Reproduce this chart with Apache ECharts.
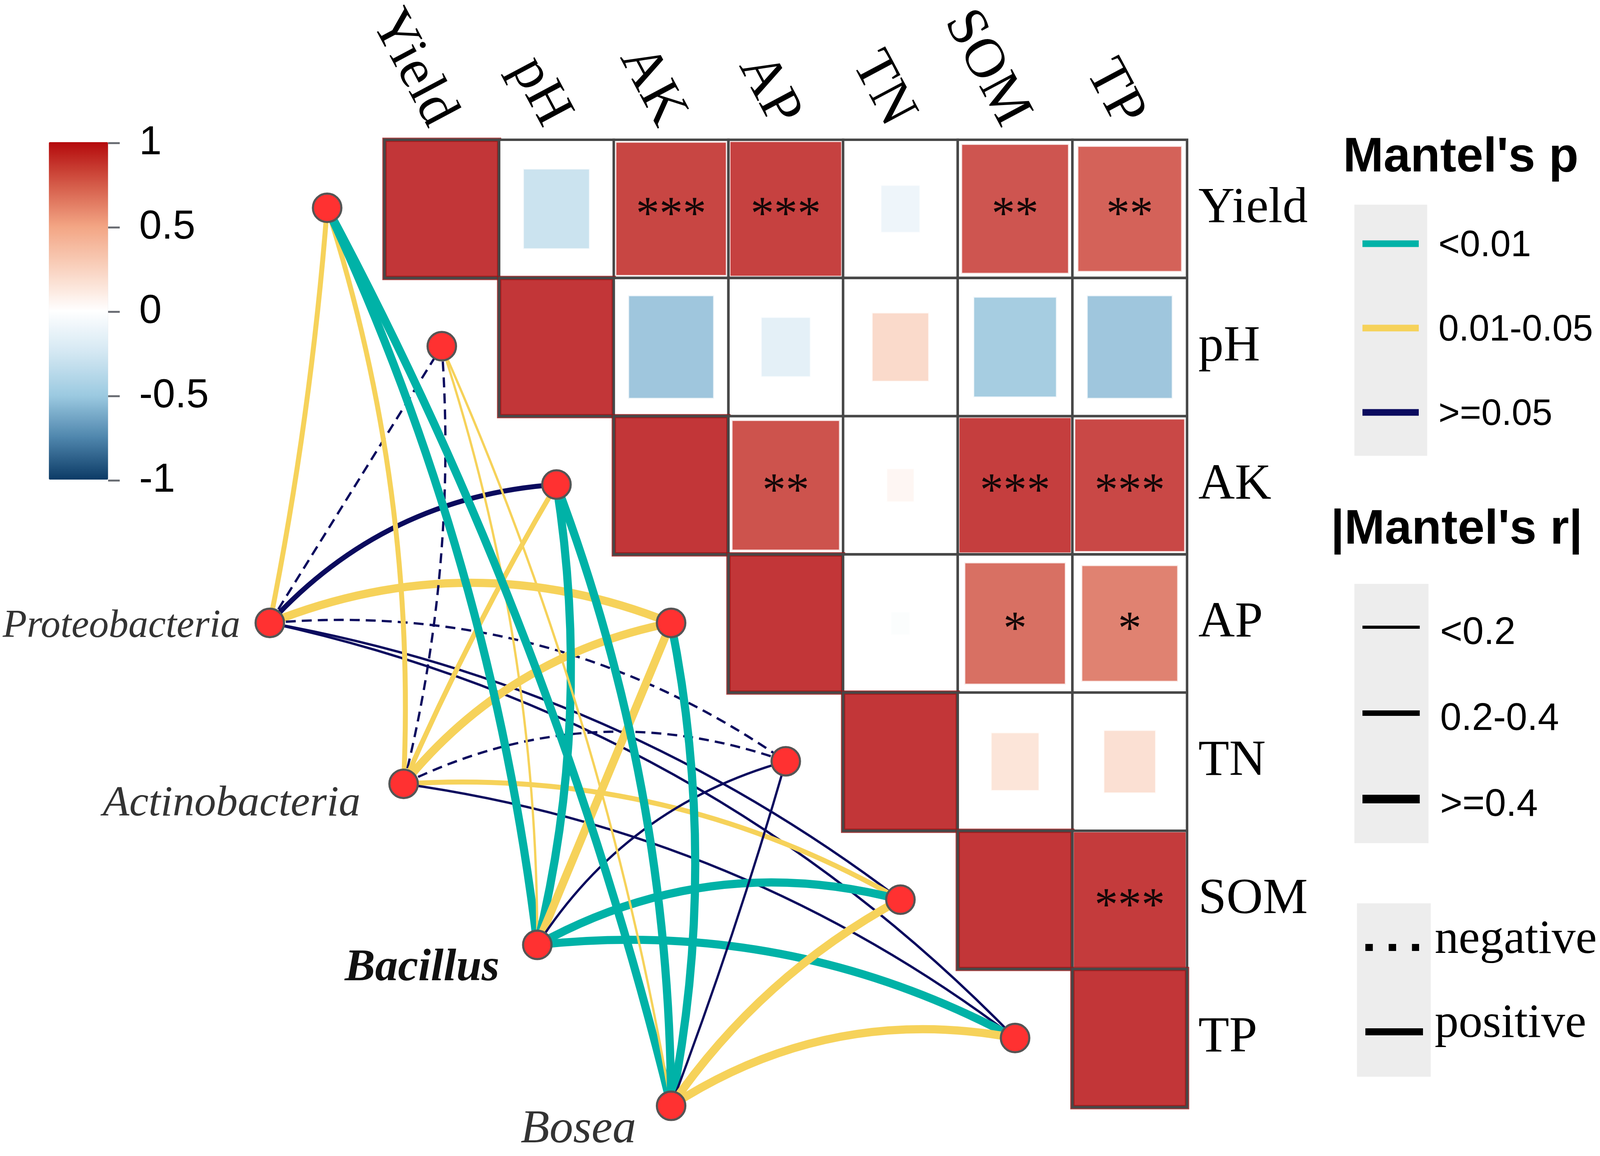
<!DOCTYPE html>
<html>
<head>
<meta charset="utf-8">
<script src="https://cdn.jsdelivr.net/npm/echarts@6/dist/echarts.min.js"></script>
<style>
html,body{margin:0;padding:0;background:#ffffff;overflow:hidden;}
#c{width:100vw;height:100vh;}
</style>
</head>
<body>
<div id="c"></div>
<script>
// ---------------- data ----------------
const envVars = ['Yield', 'pH', 'AK', 'AP', 'TN', 'SOM', 'TP'];

// Pearson r between environmental factors (upper triangle, row = y, col = x)
const corrR = [
  [1.00, -0.34, 0.94, 0.96, -0.12, 0.88, 0.83],
  [null, 1.00, -0.56, -0.19, 0.25, -0.53, -0.56],
  [null, null, 1.00, 0.89, 0.06, 0.97, 0.93],
  [null, null, null, 1.00, -0.03, 0.78, 0.71],
  [null, null, null, null, 1.00, 0.18, 0.21],
  [null, null, null, null, null, 1.00, 0.98],
  [null, null, null, null, null, null, 1.00]
];
const corrSig = [
  ['', '', '***', '***', '', '**', '**'],
  ['', '', '', '', '', '', ''],
  ['', '', '', '**', '', '***', '***'],
  ['', '', '', '', '', '*', '*'],
  ['', '', '', '', '', '', ''],
  ['', '', '', '', '', '', '***'],
  ['', '', '', '', '', '', '']
];

const taxa = ['Proteobacteria', 'Actinobacteria', 'Bacillus', 'Bosea'];
const pLevels = ['<0.01', '0.01-0.05', '>=0.05'];
const rLevels = ['<0.2', '0.2-0.4', '>=0.4'];
// Mantel test classes: rows = taxa, cols = envVars
const mantelP = [
  [1, 2, 2, 1, 2, 2, 2],
  [1, 2, 1, 1, 2, 1, 2],
  [0, 1, 0, 1, 2, 0, 0],
  [0, 1, 0, 0, 2, 1, 1]
];
const mantelR = [
  [1, 0, 1, 2, 0, 0, 0],
  [1, 0, 1, 2, 0, 1, 0],
  [2, 0, 2, 2, 0, 2, 2],
  [2, 0, 2, 2, 0, 2, 2]
];
const mantelSign = [
  [1, -1, 1, 1, -1, 1, 1],
  [1, -1, 1, 1, -1, 1, 1],
  [1, 1, 1, 1, 1, 1, 1],
  [1, 1, 1, 1, 1, 1, 1]
];
const colorbarTicks = [-1, -0.5, 0, 0.5, 1];

// ---------------- layout / style ----------------
const W = window.innerWidth || 4944, H = window.innerHeight || 2960;
const sx = W / 4944, sy = H / 2960, fs = sx, lw = Math.sqrt(sx * sy);
const X = v => v * sx, Y = v => v * sy, F = v => v * fs;

const taxaPos = [[-1.5, 3.0], [-0.333, 4.163], [0.833, 5.327], [2.0, 6.49]];
const edgeCurve = [
  [-0.03, 0.00, 0.20, 0.20, 0.18, 0.12, 0.15],
  [-0.09, -0.08, 0.03, 0.18, 0.21, 0.15, 0.13],
  [-0.08, -0.08, -0.10, 0.00, 0.19, 0.20, 0.155],
  [-0.063, -0.063, -0.09, -0.10, -0.02, 0.12, 0.20]
];
const pColors = ['#00b2a7', '#f6d25a', '#0b0b5e'];
const rWidths = [6.5, 14, 23];
const taxaLabel = [
  {distance: 44, offset: [0, 9], fontSize: 122, fontWeight: 'normal', color: '#333333'},
  {distance: 86, offset: [0, 52], fontSize: 134, fontWeight: 'normal', color: '#333333'},
  {distance: 70, offset: [0, 60], fontSize: 141, fontWeight: 'bold', color: '#111111'},
  {distance: 61, offset: [0, 62], fontSize: 146, fontWeight: 'normal', color: '#333333'}
];

const CELL = 2480 / 7;
const heatGrid = {left: X(1188), top: Y(355), width: X(2480), height: Y(2480)};
const netGrid = {left: X(1188 - 2 * CELL), top: Y(355), width: X(9 * CELL), height: Y(7 * CELL)};
const barGrid = {left: X(151), top: Y(366), width: X(183), height: Y(864)};

const heatData = [];
for (let i = 0; i < envVars.length; i++) {
  for (let j = i; j < envVars.length; j++) {
    heatData.push([j, i, corrR[i][j]]);
  }
}

const nodes = envVars.map((v, i) => ({name: 'env_' + v, value: [i - 1, i], label: {show: false}}));
taxa.forEach((t, k) => {
  const L = taxaLabel[k];
  nodes.push({
    name: t,
    value: taxaPos[k],
    label: {
      show: true, position: 'left', distance: X(L.distance), offset: [0, Y(L.offset[1])],
      formatter: '{b}', fontFamily: 'Liberation Serif', fontStyle: 'italic',
      fontWeight: L.fontWeight, fontSize: F(L.fontSize), color: L.color
    }
  });
});
const links = [];
taxa.forEach((t, k) => {
  envVars.forEach((v, j) => {
    links.push({
      source: envVars.length + k,
      target: j,
      lineStyle: {
        color: pColors[mantelP[k][j]],
        width: rWidths[mantelR[k][j]] * lw,
        type: mantelSign[k][j] < 0 ? [28 * lw, 17 * lw] : 'solid',
        curveness: edgeCurve[k][j],
        opacity: 1
      }
    });
  });
});

function renderCell(params, api) {
  const c = api.value(0), r = api.value(1), v = api.value(2);
  const p = api.coord([c, r]);
  const s = api.size([1, 1]);
  const w = s[0], h = s[1];
  const side = Math.sqrt(Math.abs(v));
  const diag = c === r;
  const sig = corrSig[r][c];
  const children = [
    {type: 'rect', shape: {x: p[0] - w / 2, y: p[1] - h / 2, width: w, height: h}, style: {fill: '#ffffff'}},
    {type: 'rect', shape: {x: p[0] - w * side / 2, y: p[1] - h * side / 2, width: w * side, height: h * side},
      style: {fill: api.visual('color'), opacity: 0.82, stroke: diag ? '#9a1515' : '#ffffff', lineWidth: (diag ? 12 : 5) * lw}},
    {type: 'rect', shape: {x: p[0] - w / 2, y: p[1] - h / 2, width: w, height: h},
      style: {fill: 'none', stroke: '#474747', lineWidth: 7 * lw}}
  ];
  if (sig) {
    children.push({type: 'text', x: p[0], y: p[1] + Y(20),
      style: {text: sig, fill: '#140808', fontSize: F(145), fontFamily: 'Liberation Serif',
        align: 'center', verticalAlign: 'middle'}});
  }
  return {type: 'group', children: children};
}

// legend graphics
const G = [];
function txt(t, x, y, size, weight, family) {
  G.push({type: 'text', x: X(x), y: Y(y), silent: true, z: 10,
    style: {text: t, fill: '#000000', fontSize: F(size), fontWeight: weight || 'normal',
      fontFamily: family || 'Liberation Sans', align: 'left', verticalAlign: 'middle'}});
}
function rect(x, y, w, h) {
  G.push({type: 'rect', silent: true, z: 9, shape: {x: X(x), y: Y(y), width: X(w), height: Y(h)}, style: {fill: '#ededed'}});
}
function line(x1, x2, y, color, width, dash) {
  G.push({type: 'line', silent: true, z: 10, shape: {x1: X(x1), y1: Y(y), x2: X(x2), y2: Y(y)},
    style: {stroke: color, lineWidth: Y(width), lineDash: dash ? dash.map(X) : null}});
}
txt("Mantel's p", 4150, 405, 150, 'bold');
rect(4185, 524, 225, 643);
const pLegY = [624, 840, 1056];
pLevels.forEach((lab, i) => {
  line(4210, 4384, pLegY[i], pColors[i], 17);
  txt(lab, 4445, pLegY[i] + 6, 113);
});
txt("|Mantel's r|", 4112, 1358, 150, 'bold');
rect(4185, 1495, 229, 664);
const rLegY = [1606, 1826, 2046];
const rLegW = [8, 14, 22];
rLevels.forEach((lab, i) => {
  line(4210, 4387, rLegY[i], '#000000', rLegW[i]);
  txt(lab, 4450, rLegY[i] + 16, 118);
});
rect(4193, 2313, 228, 444);
line(4219, 4385, 2426, '#000000', 18, [23, 49]);
line(4219, 4397, 2642, '#000000', 18);
txt('negative', 4433, 2408, 148, 'normal', 'Liberation Serif');
txt('positive', 4433, 2623, 148, 'normal', 'Liberation Serif');

const option = {
  animation: false,
  backgroundColor: '#ffffff',
  grid: [
    heatGrid,
    netGrid,
    barGrid
  ],
  xAxis: [
    {type: 'category', gridIndex: 0, position: 'top', data: envVars,
      axisLine: {show: false}, axisTick: {show: false}, splitLine: {show: false},
      axisLabel: {interval: 0, rotate: 62, margin: Y(45), fontSize: 158 * (sx + sy) / 2, fontFamily: 'Liberation Serif', color: '#000000'}},
    {type: 'value', gridIndex: 1, min: -2.5, max: 6.5, show: false, splitLine: {show: false}},
    {type: 'value', gridIndex: 2, min: 0, max: 1, show: false, splitLine: {show: false}}
  ],
  yAxis: [
    {type: 'category', gridIndex: 0, position: 'right', inverse: true, data: envVars,
      axisLine: {show: false}, axisTick: {show: false}, splitLine: {show: false},
      axisLabel: {interval: 0, margin: X(35), fontSize: F(156), fontFamily: 'Liberation Serif', color: '#000000'}},
    {type: 'value', gridIndex: 1, min: -0.5, max: 6.5, inverse: true, show: false, splitLine: {show: false}},
    {type: 'value', gridIndex: 2, position: 'right', z: 10,
      min: colorbarTicks[0], max: colorbarTicks[colorbarTicks.length - 1], interval: 0.5,
      axisLine: {show: true, onZero: false, lineStyle: {color: 'rgba(0,0,0,0)'}}, splitLine: {show: false},
      axisTick: {show: true, inside: false, length: X(36), lineStyle: {color: '#6b6e74', width: Y(5)}},
      axisLabel: {margin: X(96), fontSize: F(125), fontFamily: 'Liberation Sans', color: '#000000'}}
  ],
  visualMap: {
    type: 'continuous', seriesIndex: 0, dimension: 2, min: -1, max: 1, z: 1,
    orient: 'vertical', left: X(151), top: Y(364), itemWidth: X(183), itemHeight: Y(864),
    padding: 0, calculable: false, hoverLink: false,
    inRange: {color: ['#0c3b66', '#4f86ad', '#9ccae1', '#d3e7f2', '#ffffff', '#f9d2bf', '#f3a584', '#d45a48', '#b40a0c']}
  },
  graphic: {elements: G},
  series: [
    {type: 'custom', xAxisIndex: 0, yAxisIndex: 0, data: heatData, renderItem: renderCell, silent: true, z: 2},
    {type: 'graph', layout: 'none', coordinateSystem: 'cartesian2d', xAxisIndex: 1, yAxisIndex: 1,
      symbol: 'circle', symbolSize: 80 * lw, silent: true, z: 5,
      itemStyle: {color: '#ff3131', borderColor: '#555555', borderWidth: 6 * lw, opacity: 1},
      lineStyle: {opacity: 1},
      emphasis: {disabled: true},
      data: nodes, links: links}
  ]
};
const chart = echarts.init(document.getElementById('c'), null, {renderer: 'canvas', width: W, height: H});
chart.setOption(option);
</script>
</body>
</html>
